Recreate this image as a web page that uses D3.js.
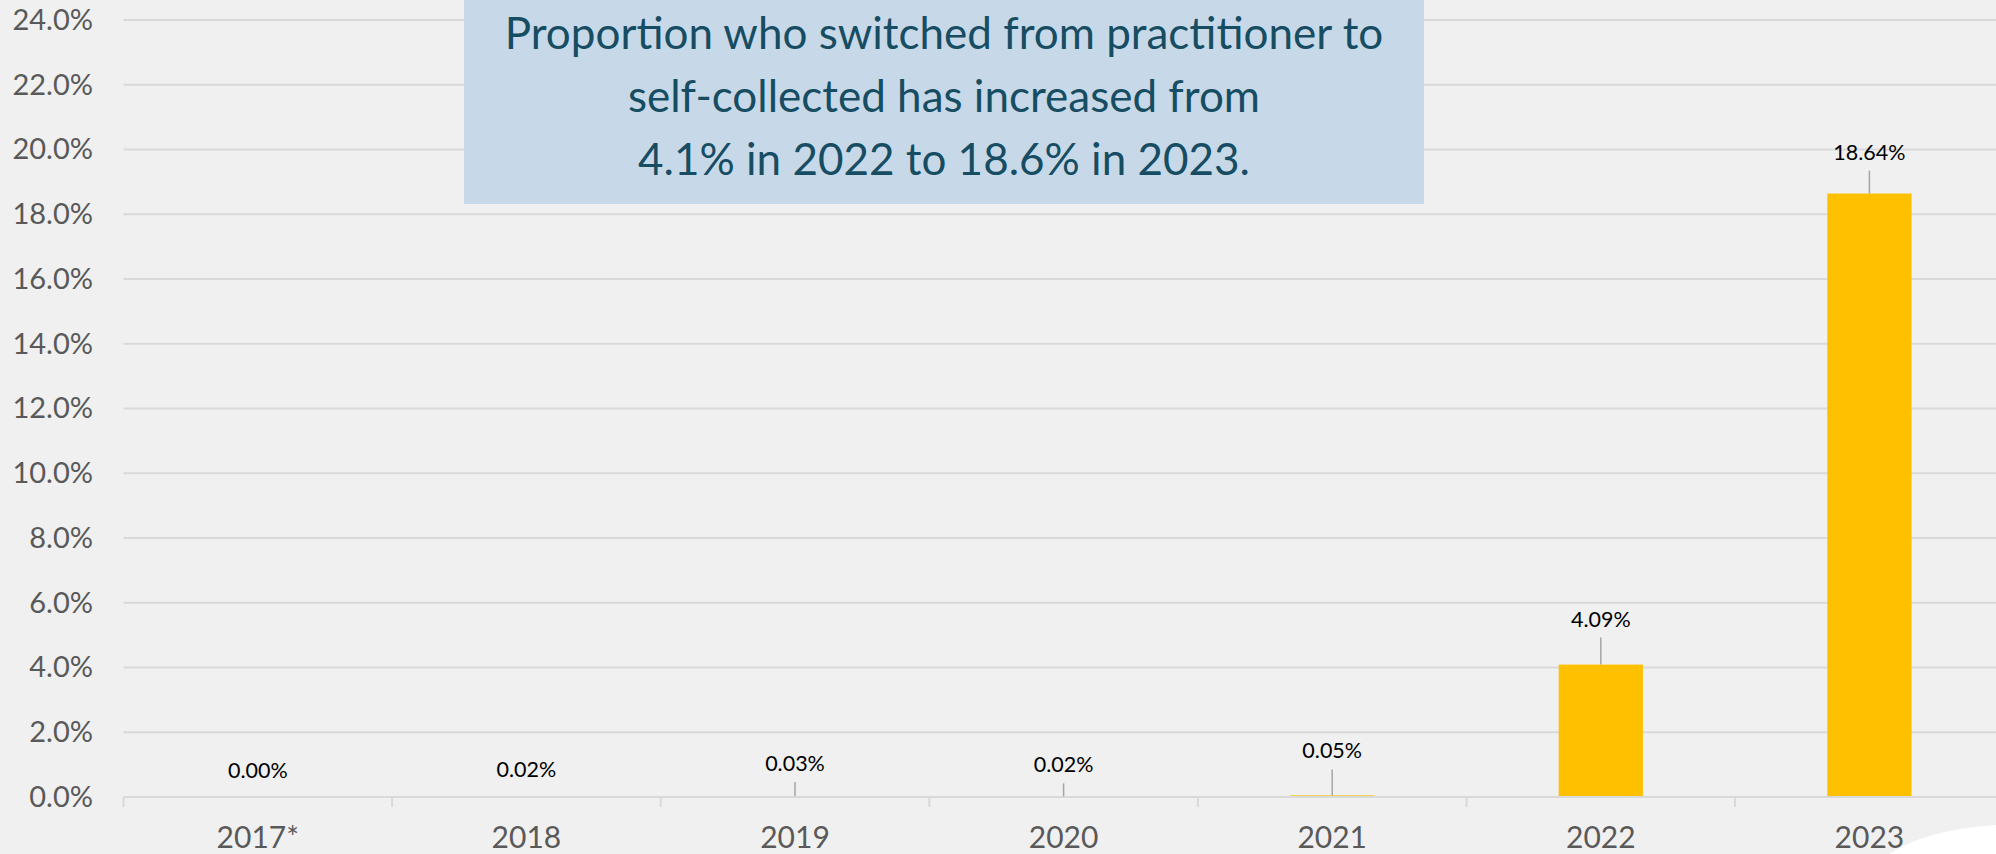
<!DOCTYPE html>
<html>
<head>
<meta charset="utf-8">
<script src="https://cdn.jsdelivr.net/npm/d3@7"></script>
<style>
  html, body { margin: 0; padding: 0; background: #f0f0f0; }
  svg { display: block; font-family: Lato, "Open Sans", sans-serif; }
</style>
</head>
<body>
<div id="chart"></div>
<script>
/* categories and values (percent) */
var years = ["2017*", "2018", "2019", "2020", "2021", "2022", "2023"];
var switched = [0.00, 0.02, 0.03, 0.02, 0.05, 4.09, 18.64];
var yTicks = [0, 2, 4, 6, 8, 10, 12, 14, 16, 18, 20, 22, 24];
var note = [
    "Proportion who switched from practitioner to",
    "self-collected has increased from",
    "4.1% in 2022 to 18.6% in 2023."
];

/* how far each data label sits above its bar (px), as placed by hand in the original */
var labelLift = [19, 19, 25, 24, 37, 38, 34];

var width = 1996, height = 854;
var plot = {left: 123.5, right: 2003.7, top: 20, bottom: 797};

var rows = years.map(function(d, i) {
    return {year: d, value: switched[i], lift: labelLift[i]};
});

var svg = d3.select("#chart").append("svg")
    .attr("width", width)
    .attr("height", height);

svg.append("rect")
    .attr("width", width).attr("height", height)
    .attr("fill", "#f0f0f0");

var x = d3.scaleBand()
    .domain(years)
    .range([plot.left, plot.right])
    .paddingInner(0.6865)
    .paddingOuter(0.34325);

var y = d3.scaleLinear()
    .domain([0, 24])
    .range([plot.bottom, plot.top]);

/* gridlines */
svg.append("g").selectAll("line")
    .data(yTicks.filter(function(d) { return d > 0; }))
  .enter().append("line")
    .attr("x1", plot.left).attr("x2", plot.right)
    .attr("y1", function(d) { return y(d); })
    .attr("y2", function(d) { return y(d); })
    .attr("stroke", "#d9d9d9")
    .attr("stroke-width", 2);

/* y axis labels */
var yAxis = d3.axisLeft(y)
    .tickValues(yTicks)
    .tickFormat(function(d) { return d.toFixed(1) + "%"; })
    .tickSize(0)
    .tickPadding(0);

var ya = svg.append("g")
    .attr("transform", "translate(93,0)")
    .call(yAxis);
ya.select(".domain").remove();
ya.selectAll("text")
    .attr("font-family", "Lato, 'Open Sans', sans-serif")
    .attr("font-size", 29)
    .attr("fill", "#595959");

/* bars */
svg.append("g").selectAll("rect")
    .data(rows)
  .enter().append("rect")
    .attr("x", function(d) { return x(d.year); })
    .attr("y", function(d) { return y(d.value); })
    .attr("width", x.bandwidth())
    .attr("height", function(d) { return plot.bottom - y(d.value); })
    .attr("fill", "#ffc000");

/* x axis line + category ticks */
var step = x.step();
var xa = svg.append("g");
xa.append("line")
    .attr("x1", plot.left).attr("x2", plot.right)
    .attr("y1", plot.bottom).attr("y2", plot.bottom)
    .attr("stroke", "#d9d9d9")
    .attr("stroke-width", 2);
xa.selectAll("line.tick")
    .data(d3.range(years.length + 1))
  .enter().append("line")
    .attr("class", "tick")
    .attr("x1", function(i) { return plot.left + i * step; })
    .attr("x2", function(i) { return plot.left + i * step; })
    .attr("y1", plot.bottom).attr("y2", plot.bottom + 10)
    .attr("stroke", "#d9d9d9")
    .attr("stroke-width", 2);
xa.selectAll("text")
    .data(years)
  .enter().append("text")
    .attr("x", function(d) { return x(d) + x.bandwidth() / 2; })
    .attr("y", 848)
    .attr("text-anchor", "middle")
    .attr("font-size", 30)
    .attr("fill", "#595959")
    .text(function(d) { return d; });

/* data labels with leader lines */
var lab = svg.append("g").selectAll("g")
    .data(rows)
  .enter().append("g")
    .attr("transform", function(d) {
        return "translate(" + (x(d.year) + x.bandwidth() / 2) + "," + y(d.value) + ")";
    });

lab.filter(function(d) { return d.lift > 20; })
  .append("line")
    .attr("x1", 0).attr("x2", 0)
    .attr("y1", function(d) { return -d.lift + 11; })
    .attr("y2", 0)
    .attr("stroke", "#a6a6a6")
    .attr("stroke-width", 1.5);

lab.append("text")
    .attr("y", function(d) { return -d.lift; })
    .attr("text-anchor", "middle")
    .attr("font-size", 21.5)
    .attr("fill", "#000")
    .text(function(d) { return d.value.toFixed(2) + "%"; });

/* annotation box */
var box = svg.append("g");
box.append("rect")
    .attr("x", 464).attr("y", 0)
    .attr("width", 960).attr("height", 204)
    .attr("fill", "#c7d9e8");
box.selectAll("text")
    .data(note)
  .enter().append("text")
    .attr("x", 944)
    .attr("y", function(d, i) { return 49 + i * 63; })
    .attr("text-anchor", "middle")
    .attr("font-size", 44)
    .attr("fill", "#174d63")
    .text(function(d) { return d; });

/* white slide decoration at bottom-right */
svg.append("path")
    .attr("d", "M1889,854 Q1925,830 1996,825 L1996,854 Z")
    .attr("fill", "#ffffff");
</script>
</body>
</html>
